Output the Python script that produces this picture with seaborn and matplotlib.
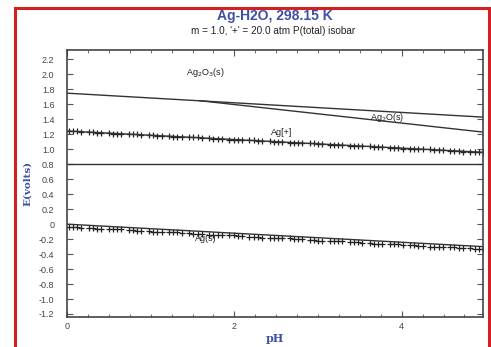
import numpy as np
import pandas as pd
import matplotlib
matplotlib.use("Agg")
import matplotlib.pyplot as plt
import seaborn as sns
from matplotlib.patches import Rectangle

# ---- boundary lines (pH, E) ----
ag2o3_ph = [0.0, 4.97]
ag2o3_e = [1.75, 1.43]

ag2o_ph = [1.58, 4.97]
ag2o_e = [1.65, 1.23]

o2_ph = [0.0, 4.97]
o2_e = [0.80, 0.80]

agp_ph = [0.0, 4.97]
agp_e = [1.245, 0.96]

ags_ph = [0.0, 4.97]
ags_e = [0.0, -0.30]

# ---- '+' isobar markers ----
iso_ph = [0.02, 0.07, 0.12, 0.17, 0.26, 0.31, 0.36, 0.41, 0.50, 0.55, 0.60, 0.65,
          0.74, 0.79, 0.84, 0.89, 0.98, 1.03, 1.08, 1.13, 1.22, 1.27, 1.32, 1.37,
          1.46, 1.51, 1.56, 1.61, 1.70, 1.75, 1.80, 1.85, 1.94, 1.99, 2.04, 2.09,
          2.18, 2.23, 2.28, 2.33, 2.42, 2.47, 2.52, 2.57, 2.66, 2.71, 2.76, 2.81,
          2.90, 2.95, 3.00, 3.05, 3.14, 3.19, 3.24, 3.29, 3.38, 3.43, 3.48, 3.53,
          3.62, 3.67, 3.72, 3.77, 3.86, 3.91, 3.96, 4.01, 4.10, 4.15, 4.20, 4.25,
          4.34, 4.39, 4.44, 4.49, 4.58, 4.63, 4.68, 4.73, 4.82, 4.87, 4.92, 4.97]

iso_agp_e = [1.24, 1.24, 1.24, 1.23, 1.23, 1.23, 1.22, 1.22, 1.22, 1.21, 1.21, 1.21,
             1.20, 1.20, 1.20, 1.19, 1.19, 1.19, 1.18, 1.18, 1.18, 1.17, 1.17, 1.17,
             1.16, 1.16, 1.16, 1.15, 1.15, 1.14, 1.14, 1.14, 1.13, 1.13, 1.13, 1.12,
             1.12, 1.12, 1.11, 1.11, 1.11, 1.10, 1.10, 1.10, 1.09, 1.09, 1.09, 1.08,
             1.08, 1.08, 1.07, 1.07, 1.06, 1.06, 1.06, 1.06, 1.05, 1.05, 1.05, 1.04,
             1.04, 1.03, 1.03, 1.03, 1.02, 1.02, 1.02, 1.01, 1.01, 1.01, 1.00, 1.00,
             1.00, 0.99, 0.99, 0.99, 0.98, 0.98, 0.98, 0.97, 0.97, 0.97, 0.96, 0.96]

iso_ags_e = [-0.04, -0.04, -0.04, -0.05, -0.05, -0.05, -0.06, -0.06, -0.07, -0.07, -0.07, -0.07,
             -0.08, -0.08, -0.09, -0.09, -0.09, -0.10, -0.10, -0.10, -0.11, -0.11, -0.11, -0.12,
             -0.12, -0.13, -0.13, -0.13, -0.14, -0.14, -0.14, -0.15, -0.15, -0.15, -0.16, -0.16,
             -0.17, -0.17, -0.17, -0.18, -0.18, -0.18, -0.19, -0.19, -0.19, -0.20, -0.20, -0.20,
             -0.21, -0.21, -0.22, -0.22, -0.22, -0.23, -0.23, -0.23, -0.24, -0.24, -0.24, -0.25,
             -0.25, -0.26, -0.26, -0.26, -0.27, -0.27, -0.27, -0.28, -0.28, -0.28, -0.29, -0.29,
             -0.30, -0.30, -0.30, -0.31, -0.31, -0.31, -0.32, -0.32, -0.32, -0.33, -0.33, -0.33]

# ---- region labels ----
label_text = ["Ag$_2$O$_3$(s)", "Ag$_2$O(s)", "Ag[+]", "Ag(s)"]
label_ph = [1.65, 3.82, 2.56, 1.66]
label_e = [2.02, 1.42, 1.23, -0.19]

y_ticks = [-1.2, -1.0, -0.8, -0.6, -0.4, -0.2, 0, 0.2, 0.4, 0.6, 0.8, 1.0,
           1.2, 1.4, 1.6, 1.8, 2.0, 2.2]
y_tick_labels = ["-1.2", "-1.0", "-0.8", "-0.6", "-0.4", "-0.2", "0", "0.2", "0.4",
                 "0.6", "0.8", "1.0", "1.2", "1.4", "1.6", "1.8", "2.0", "2.2"]
x_ticks = [0, 2, 4]
x_tick_labels = ["0", "2", "4"]

sns.set_theme(style="ticks")
plt.rcParams["font.family"] = ["Liberation Sans", "DejaVu Sans"]

line_col = "#333333"
blue = "#3f50a8"

fig = plt.figure(figsize=(4.91, 3.47), dpi=100)
ax = fig.add_axes([0.1365, 0.0865, 0.847, 0.7695])

lines = [(ag2o3_ph, ag2o3_e), (ag2o_ph, ag2o_e), (o2_ph, o2_e),
         (agp_ph, agp_e), (ags_ph, ags_e)]
for xs, ys in lines:
    sns.lineplot(x=xs, y=ys, ax=ax, color=line_col, linewidth=1.0, estimator=None)

iso = pd.DataFrame({"pH": iso_ph + iso_ph, "E": iso_agp_e + iso_ags_e})
sns.scatterplot(data=iso, x="pH", y="E", ax=ax, marker="+", color="#222222",
                s=22, linewidth=0.9)

for t, px, py in zip(label_text, label_ph, label_e):
    ax.text(px, py, t, fontsize=6.5, color="#222222", ha="center", va="center")

ax.set_xlim(0, 4.97)
ax.set_ylim(-1.24, 2.327)
ax.set_yticks(y_ticks)
ax.set_yticklabels(y_tick_labels)
ax.set_xticks(x_ticks)
ax.set_xticklabels(x_tick_labels)
ax.set_xticks(np.arange(0, 5.0, 0.25), minor=True)
ax.tick_params(axis="both", which="both", direction="in", top=True, right=True,
               colors="#555555", labelcolor="#444444", labelsize=6.5)
ax.tick_params(which="major", length=4, width=0.8)
ax.tick_params(which="minor", length=2, width=0.6)
ax.tick_params(axis="y", pad=9)
for sp in ax.spines.values():
    sp.set_color("#444444")
    sp.set_linewidth(1.2)

ax.set_xlabel("pH", fontsize=8, color=blue, family="DejaVu Serif",
              fontweight="bold", labelpad=1.5)
ax.set_ylabel("E(volts)", fontsize=7.5, color=blue, family="DejaVu Serif",
              fontweight="bold")
ax.yaxis.set_label_coords(-0.085, 0.5)

fig.text(0.56, 0.955, "Ag-H2O, 298.15 K", ha="center", va="center",
         fontsize=10, fontweight="bold", color=blue)
fig.text(0.556, 0.926, "m = 1.0, '+' = 20.0 atm P(total) isobar", ha="center",
         va="top", fontsize=7.2, color="#222222")

fig.patches.append(Rectangle((15 / 491, -0.05), 474 / 491, 1 - 8 / 347 + 0.05,
                             transform=fig.transFigure, fill=False,
                             edgecolor="#d42020", linewidth=2.2))

fig.savefig("out.png", dpi=100)
